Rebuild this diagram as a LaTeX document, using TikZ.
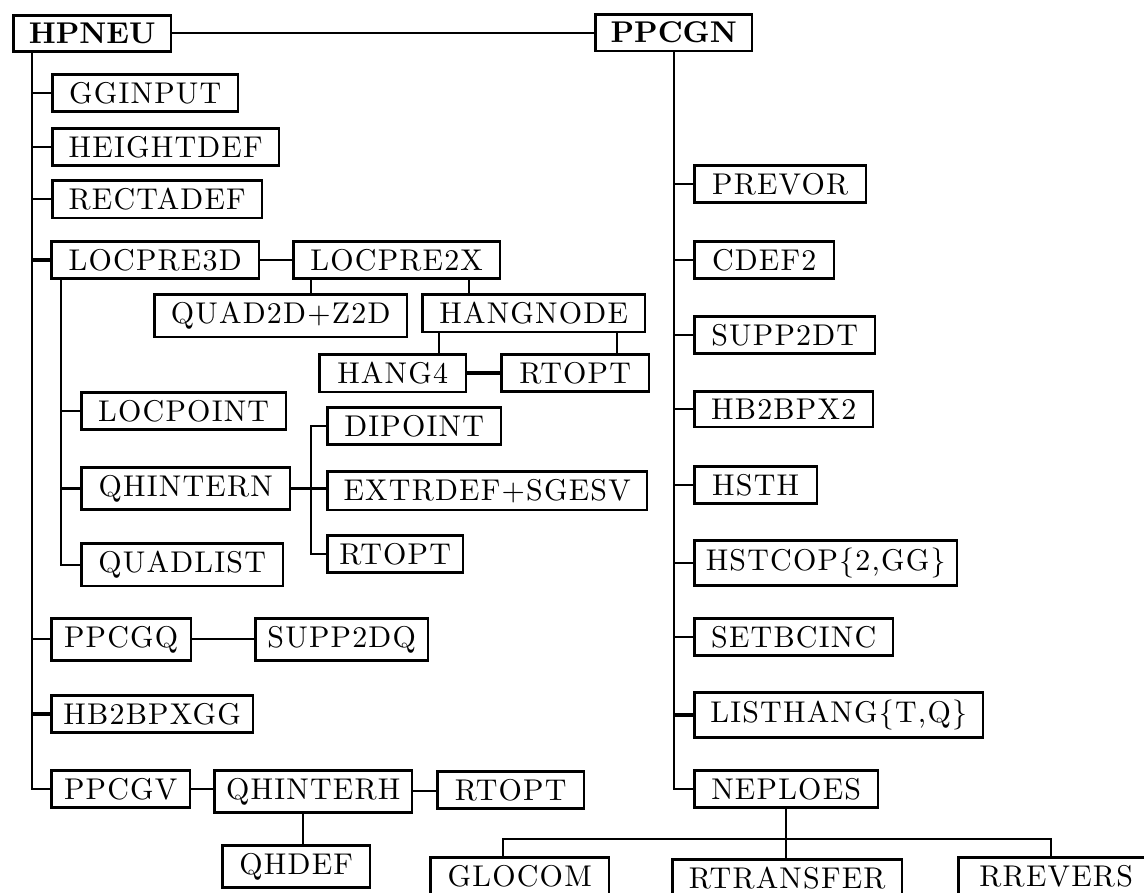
\documentclass[tikz,border=0pt]{standalone}
\usepackage{fontspec}
\setmainfont{lmroman10-regular}[Extension=.otf, BoldFont=lmroman10-bold, LetterSpace=4, BoldFeatures={LetterSpace=0}]
\begin{document}
\begin{tikzpicture}[x=1pt,y=-1pt,
  box/.style={draw, line width=2.4pt, anchor=north west, inner xsep=0pt, inner ysep=7.6pt,
    xshift=1.2pt, yshift=-1.2pt, font=\fontsize{30}{36}\selectfont},
  boldbox/.style={box, font=\fontsize{30}{36}\selectfont\bfseries},
  bw/.style={minimum width={(#1-2.4)*1pt}},
  ln/.style={line width=2pt},
  thk/.style={line width=3.2pt}]
\useasboundingbox (0,0) rectangle (1144,893);

% roots
\node[boldbox,bw=160] (hpneu) at (11,13) {HPNEU\hspace{12pt}};
\node[boldbox,bw=159] (ppcgn) at (593,12) {PPCGN\hspace{12pt}};

% left column
\node[box,bw=188] (gginput)   at (50,72)  {GGINPUT};
\node[box,bw=229] (heightdef) at (50,126) {HEIGHTDEF};
\node[box,bw=212] (rectadef)  at (50,178) {RECTADEF};
\node[box,bw=210] (locpre3d)  at (49,239) {LOCPRE3D};
\node[box,bw=209] (locpre2x)  at (291,239) {LOCPRE2X};
\node[box,bw=255] (quad2d)    at (152,292) {QUAD2D+Z2D};
\node[box,bw=225] (hangnode)  at (420,292) {HANGNODE};
\node[box,bw=149] (hang4)     at (317,352) {HANG4};
\node[box,bw=150] (rtopta)    at (499,352) {RTOPT};
\node[box,bw=207] (locpoint)  at (79,390)  {LOCPOINT};
\node[box,bw=176] (dipoint)   at (325,405) {DIPOINT};
\node[box,bw=211] (qhintern)  at (79,465)  {QHINTERN};
\node[box,bw=322] (extrdef)   at (325,469) {EXTRDEF+SGESV};
\node[box,bw=138] (rtoptb)    at (325,533) {RTOPT};
\node[box,bw=204] (quadlist)  at (79,541)  {QUADLIST};
\node[box,bw=142] (ppcgq)     at (49,616)  {PPCGQ};
\node[box,bw=175] (supp2dq)   at (253,616) {SUPP2DQ};
\node[box,bw=204] (hb2bpxgg)  at (49,693)  {HB2BPXGG};
\node[box,bw=141] (ppcgv)     at (49,768)  {PPCGV};
\node[box,bw=200] (qhinterh)  at (212,768) {QHINTERH};
\node[box,bw=149] (rtoptc)    at (435,769) {RTOPT};
\node[box,bw=150] (qhdef)     at (220,843) {QHDEF};

% right column
\node[box,bw=174] (prevor)   at (692,163) {PREVOR};
\node[box,bw=142] (cdef2)    at (692,239) {CDEF2};
\node[box,bw=183] (supp2dt)  at (692,314) {SUPP2DT};
\node[box,bw=181] (hb2bpx2)  at (692,389) {HB2BPX2};
\node[box,bw=125] (hsth)     at (692,464) {HSTH};
\node[box,bw=265] (hstcop)   at (692,538) {HSTCOP\{2,GG\}};
\node[box,bw=201] (setbcinc) at (692,616) {SETBCINC};
\node[box,bw=291] (listhang) at (692,690) {LISTHANG\{T,Q\}};
\node[box,bw=186] (neploes)  at (692,768) {NEPLOES};
\node[box,bw=181] (glocom)   at (428,855) {GLOCOM};
\node[box,bw=232] (rtransfer) at (670,857) {RTRANSFER};
\node[box,bw=198] (rrevers)  at (956,855) {RREVERS};

% root link
\draw[ln] (hpneu.east) -- (hpneu.east -| ppcgn.west);

% left trunk
\coordinate (lt) at ([xshift=20pt]hpneu.south west);
\draw[ln] (lt) |- (ppcgv.west);
\draw[ln] (lt |- gginput.west) -- (gginput.west);
\draw[ln] (lt |- heightdef.west) -- (heightdef.west);
\draw[ln] (lt |- rectadef.west) -- (rectadef.west);
\draw[thk] (lt |- locpre3d.west) -- (locpre3d.west);
\draw[ln] (lt |- ppcgq.west) -- (ppcgq.west);
\draw[thk] (lt |- hb2bpxgg.west) -- (hb2bpxgg.west);

% LOCPRE3D subtree
\draw[ln] (locpre3d.east) -- (locpre2x.west);
\coordinate (st) at ([xshift=11pt]locpre3d.south west);
\draw[ln] (st) |- (quadlist.west);
\draw[ln] (st |- locpoint.west) -- (locpoint.west);
\draw[thk] (st |- qhintern.west) -- (qhintern.west);
\draw[thk] (qhintern.east) -- (qhintern.east -| extrdef.west);
\coordinate (qt) at ([xshift=20pt]qhintern.east);
\draw[ln] (dipoint.west) -| (qt) |- (rtoptb.west);

\coordinate (a1) at ([xshift=19pt]locpre2x.south west);
\draw[ln] (a1) -- (a1 |- quad2d.north);
\coordinate (a2) at ([xshift=177pt]locpre2x.south west);
\draw[ln] (a2) -- (a2 |- hangnode.north);
\coordinate (b1) at ([xshift=18pt]hangnode.south west);
\draw[ln] (b1) -- (b1 |- hang4.north);
\coordinate (b2) at ([xshift=196pt]hangnode.south west);
\draw[ln] (b2) -- (b2 |- rtopta.north);
\draw[thk] (hang4.east) -- (hang4.east -| rtopta.west);

% PPCGQ, PPCGV
\draw[ln] (ppcgq.east) -- (ppcgq.east -| supp2dq.west);
\draw[ln] (ppcgv.east) -- (ppcgv.east -| qhinterh.west);
\draw[ln] (qhinterh.east) -- (qhinterh.east -| rtoptc.west);
\coordinate (c1) at ([xshift=90pt]qhinterh.south west);
\draw[ln] (c1) -- (c1 |- qhdef.north);

% right trunk
\draw[ln] (ppcgn.south) |- (neploes.west);
\draw[ln] (ppcgn.south |- prevor.west) -- (prevor.west);
\draw[ln] (ppcgn.south |- cdef2.west) -- (cdef2.west);
\draw[ln] (ppcgn.south |- supp2dt.west) -- (supp2dt.west);
\draw[ln] (ppcgn.south |- hb2bpx2.west) -- (hb2bpx2.west);
\draw[ln] (ppcgn.south |- hsth.west) -- (hsth.west);
\draw[ln] (ppcgn.south |- hstcop.west) -- (hstcop.west);
\draw[ln] (ppcgn.south |- setbcinc.west) -- (setbcinc.west);
\draw[thk] (ppcgn.south |- listhang.west) -- (listhang.west);

% NEPLOES subtree
\draw[ln] (neploes.south) -- (neploes.south |- rtransfer.north);
\coordinate (nb) at ([yshift=-30pt]neploes.south);
\coordinate (g1) at ([xshift=74pt]glocom.north west);
\coordinate (g3) at ([xshift=94pt]rrevers.north west);
\draw[ln] (g1) |- (nb) -| (g3);
\end{tikzpicture}
\end{document}
